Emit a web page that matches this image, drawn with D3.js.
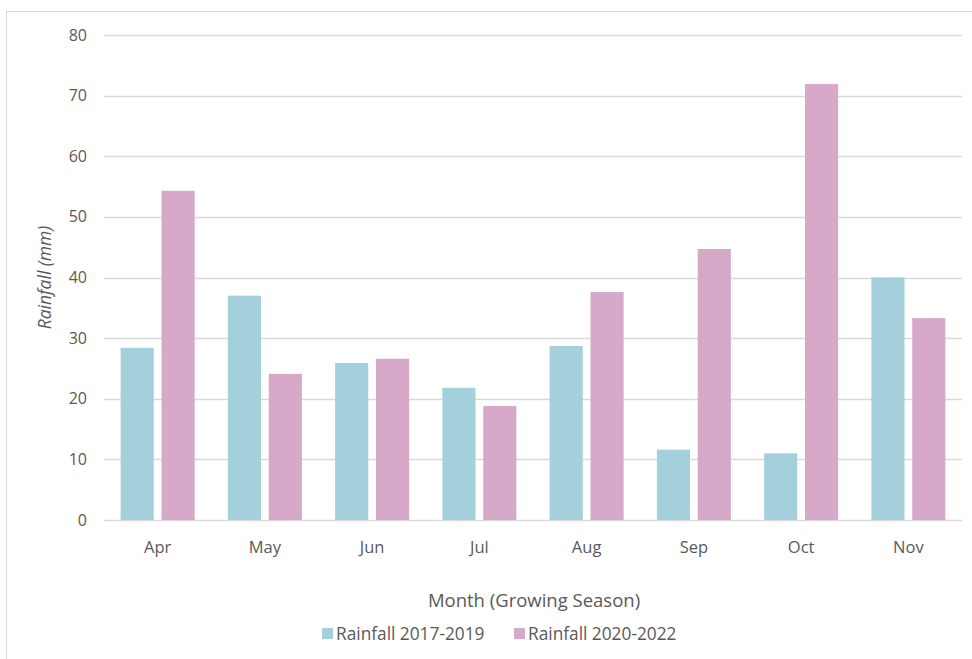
<!DOCTYPE html>
<html>
<head>
<meta charset="utf-8">
<script src="https://cdn.jsdelivr.net/npm/d3@7"></script>
<style>
  body { margin: 0; background: #fff; }
  svg { display: block; font-family: "Open Sans", sans-serif; }
</style>
</head>
<body>
<script>
// data
const months = ["Apr", "May", "Jun", "Jul", "Aug", "Sep", "Oct", "Nov"];
const rain1719 = [28.4, 37.0, 25.9, 21.8, 28.7, 11.6, 11.0, 40.0];
const rain2022 = [54.3, 24.1, 26.6, 18.8, 37.6, 44.7, 71.9, 33.3];
const seriesNames = ["Rainfall 2017-2019", "Rainfall 2020-2022"];
const yTicks = [0, 10, 20, 30, 40, 50, 60, 70, 80];

const width = 972, height = 659;
const colors = ["#a3d0da", "#d6a9c9"];
const textColor = "#595959";

const svg = d3.select("body").append("svg")
  .attr("width", width)
  .attr("height", height);

// chart frame
svg.append("rect")
  .attr("x", 6.5).attr("y", 11.5)
  .attr("width", 1000).attr("height", 700)
  .attr("fill", "none")
  .attr("stroke", "#d9d9d9");

const margin = {left: 104, right: 10, top: 35, bottom: 139};

const x = d3.scaleBand()
  .domain(months)
  .range([margin.left, width - margin.right])
  .paddingInner(0.31)
  .paddingOuter(0.155);

const x1 = d3.scaleBand()
  .domain([0, 1])
  .range([0, x.bandwidth()])
  .paddingInner(0.19);

const y = d3.scaleLinear()
  .domain([0, 80])
  .range([height - margin.bottom, margin.top]);

// gridlines
svg.append("g")
  .selectAll("line")
  .data(yTicks)
  .join("line")
  .attr("x1", margin.left)
  .attr("x2", width - margin.right)
  .attr("y1", d => Math.round(y(d)) + 0.5)
  .attr("y2", d => Math.round(y(d)) + 0.5)
  .attr("stroke", "#d9d9d9")
  .attr("stroke-width", 1.3);

// y tick labels
svg.append("g")
  .selectAll("text")
  .data(yTicks)
  .join("text")
  .attr("x", 87)
  .attr("y", d => y(d))
  .attr("dy", "0.35em")
  .attr("text-anchor", "end")
  .attr("fill", textColor)
  .attr("font-size", 16)
  .text(d => d);

// bars
const groups = svg.append("g")
  .selectAll("g")
  .data(months.map((m, i) => ({month: m, vals: [rain1719[i], rain2022[i]]})))
  .join("g")
  .attr("transform", d => `translate(${x(d.month)},0)`);

groups.selectAll("rect")
  .data(d => d.vals)
  .join("rect")
  .attr("x", (d, i) => x1(i))
  .attr("width", x1.bandwidth())
  .attr("y", d => y(d))
  .attr("height", d => y(0) - y(d))
  .attr("fill", (d, i) => colors[i]);

// month labels
svg.append("g")
  .selectAll("text")
  .data(months)
  .join("text")
  .attr("x", d => x(d) + x.bandwidth() / 2)
  .attr("y", 553)
  .attr("text-anchor", "middle")
  .attr("fill", textColor)
  .attr("font-size", 16.5)
  .text(d => d);

// axis titles
svg.append("text")
  .attr("transform", `translate(51,${y(40)}) rotate(-90)`)
  .attr("text-anchor", "middle")
  .attr("fill", textColor)
  .attr("font-size", 17.5)
  .attr("font-style", "italic")
  .text("Rainfall (mm)");

svg.append("text")
  .attr("x", 534)
  .attr("y", 607)
  .attr("text-anchor", "middle")
  .attr("fill", textColor)
  .attr("font-size", 18.5)
  .text("Month (Growing Season)");

// legend
const legendX = [322, 514];
const legend = svg.append("g")
  .selectAll("g")
  .data(seriesNames)
  .join("g")
  .attr("transform", (d, i) => `translate(${legendX[i]},628)`);

legend.append("rect")
  .attr("width", 11).attr("height", 11)
  .attr("fill", (d, i) => colors[i]);

legend.append("text")
  .attr("x", 14)
  .attr("y", 11.5)
  .attr("fill", textColor)
  .attr("font-size", 17.3)
  .text(d => d);
</script>
</body>
</html>
